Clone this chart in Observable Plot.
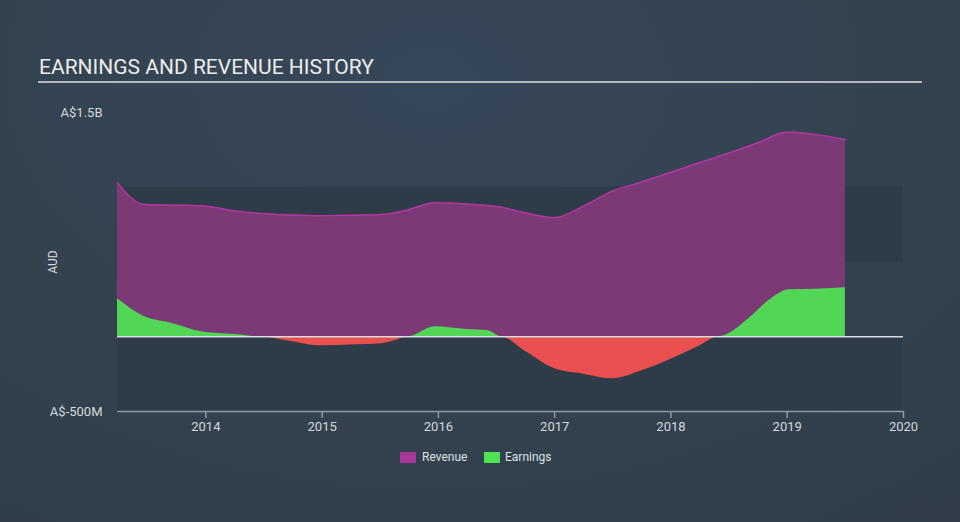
<!DOCTYPE html>
<html><head><meta charset="utf-8">
<script src="https://cdn.jsdelivr.net/npm/d3@7"></script>
<script src="https://cdn.jsdelivr.net/npm/@observablehq/plot@0.6"></script>
<style>
html,body{margin:0;padding:0;width:960px;height:522px;overflow:hidden;font-family:Roboto,"Open Sans",sans-serif;}
body{background: radial-gradient(ellipse 90% 110% at 45% 15%, #36475a 0%, #34424f 55%, #303c49 100%);}
#title{position:relative;height:95px;}
#title .t{position:absolute;left:39px;top:55px;font-size:21px;line-height:24px;color:#ececec;white-space:nowrap;}
#title .u{position:absolute;left:38px;top:81px;width:884px;height:2px;background:#b4b9be;}
#chart svg{display:block;}
#legend{position:relative;height:40px;}
.sw{position:absolute;top:12px;width:16px;height:11px;}
.lt{position:absolute;top:9px;font-size:12px;line-height:16px;color:#dde1e5;}
</style></head>
<body>
<div id="title"><div class="t">EARNINGS AND REVENUE HISTORY</div><div class="u"></div></div>
<div id="chart"></div>
<div id="legend"></div>
<script>
const revYears = [2013.24, 2013.47, 2013.72, 2013.96, 2014.22, 2014.47, 2014.72, 2014.97, 2015.25, 2015.51, 2015.74, 2015.97, 2016.25, 2016.52, 2016.74, 2017.0, 2017.25, 2017.5, 2017.75, 2018.0, 2018.25, 2018.5, 2018.75, 2019.0, 2019.25, 2019.5];
const revenue = [1031, 884, 880, 877, 845, 824, 815, 810, 812, 817, 850, 897, 888, 870, 830, 797, 875, 975, 1035, 1100, 1165, 1230, 1298, 1370, 1352, 1320];
const earnYears = [2013.24, 2013.47, 2013.72, 2013.96, 2014.13, 2014.3, 2014.46, 2014.72, 2014.97, 2015.25, 2015.51, 2015.62, 2015.74, 2015.97, 2016.25, 2016.43, 2016.54, 2016.74, 2017.0, 2017.25, 2017.5, 2017.75, 2018.0, 2018.25, 2018.41, 2018.67, 2018.84, 2019.02, 2019.25, 2019.5];
const earnings = [255, 135, 87, 33, 20, 12, 0, -30, -60, -55, -47, -27, 0, 67, 48, 40, 0, -94, -214, -250, -281, -228, -150, -60, 0, 120, 241, 315, 318, 328];
const xTicks = [2014, 2015, 2016, 2017, 2018, 2019, 2020];
const yTickValues = [1500, -500];
const yTickLabels = ["A$1.5B", "A$-500M"];
const bands = [[500, 1000], [-500, 0]];
const seriesNames = ["Revenue", "Earnings"];
const seriesColors = ["#a9369a", "#4fe353"];

const xStart = 2013.24, xEnd = 2020;
const rev = revYears.map((x, i) => ({x, v: revenue[i]}));
const earn = earnYears.map((x, i) => ({x, v: earnings[i]}));

const chart = Plot.plot({
  width: 960, height: 345,
  marginLeft: 117, marginRight: 57, marginTop: 17, marginBottom: 29,
  style: {background: "transparent", fontFamily: "Roboto, sans-serif"},
  x: {domain: [xStart, xEnd], axis: null},
  y: {domain: [-500, 1500], axis: null},
  marks: [
    Plot.rectY(bands, {x1: xStart, x2: xEnd, y1: d => d[0], y2: d => d[1], fill: "#2e3b49"}),
    Plot.areaY(rev, {x: "x", y: "v", fill: "#7b3a76", curve: "monotone-x"}),
    Plot.lineY(rev, {x: "x", y: "v", stroke: "#b0379e", strokeWidth: 1.5, curve: "monotone-x"}),
    Plot.areaY(earn, {x: "x", y: d => Math.max(0, d.v), fill: "#52d655", curve: "monotone-x"}),
    Plot.areaY(earn, {x: "x", y: d => Math.min(0, d.v), fill: "#ea5050", curve: "monotone-x"}),
    Plot.ruleY([0], {x1: xStart, x2: xEnd, stroke: "#d9dcdf", strokeWidth: 1.5}),
    Plot.ruleY([-500], {x1: xStart, x2: xEnd, stroke: "#8d99a7", strokeWidth: 1.5}),
    Plot.ruleX(xTicks, {x: d => d, y1: -500, y2: -500, insetBottom: -7, stroke: "#8d99a7", strokeWidth: 1.5}),
    Plot.text(xTicks, {x: d => d, y: -500, dy: 15, text: d => String(d), fill: "#d3d8dd", fontSize: 13, textAnchor: "middle"}),
    Plot.text(yTickValues, {x: xStart, y: d => d, dx: -15, text: (d, i) => yTickLabels[i], fill: "#d3d8dd", fontSize: 13, textAnchor: "end"}),
    Plot.text(["AUD"], {x: xStart, y: 500, dx: -64, text: d => d, rotate: -90, fill: "#d3d8dd", fontSize: 12, textAnchor: "middle"})
  ]
});
document.getElementById("chart").appendChild(chart);

const lg = document.getElementById("legend");
const pos = [[400, 422], [484, 505]];
seriesNames.forEach((n, i) => {
  const s = document.createElement("div"); s.className = "sw"; s.style.left = pos[i][0] + "px"; s.style.background = seriesColors[i];
  const t = document.createElement("div"); t.className = "lt"; t.style.left = pos[i][1] + "px"; t.textContent = n;
  lg.appendChild(s); lg.appendChild(t);
});
</script>
</body></html>
